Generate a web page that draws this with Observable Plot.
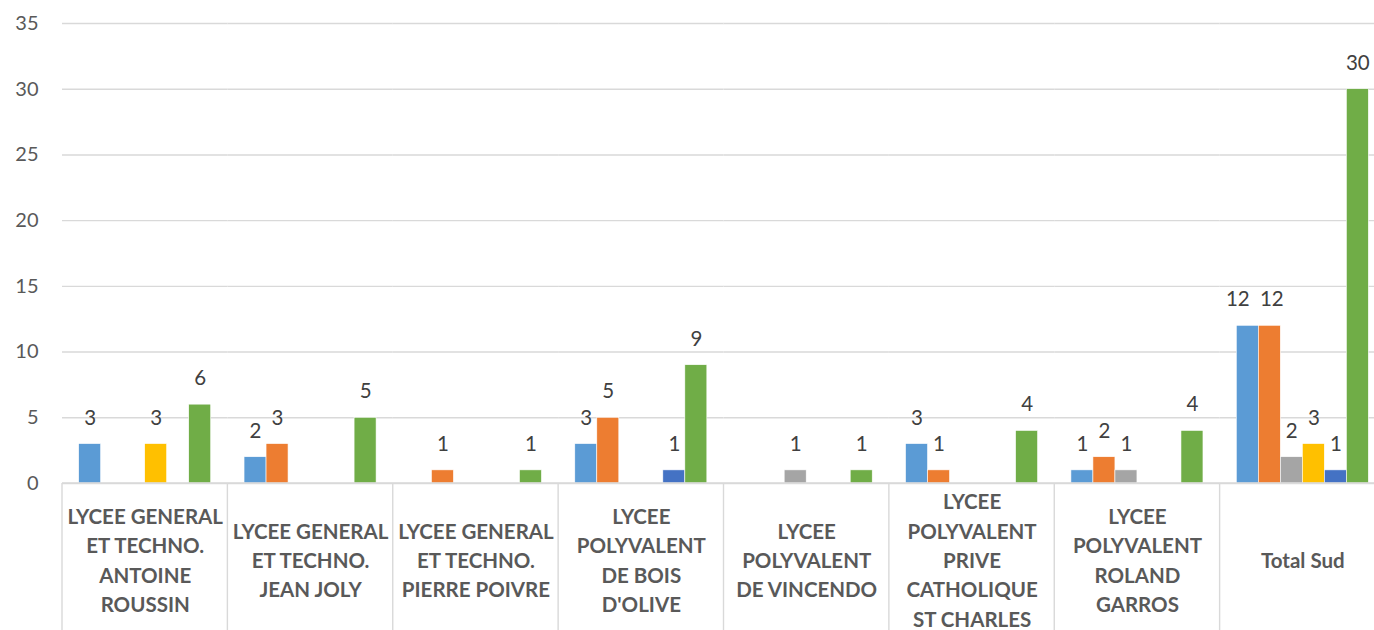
<!DOCTYPE html>
<html>
<head>
<meta charset="utf-8">
<script src="https://cdn.jsdelivr.net/npm/d3@7"></script>
<script src="https://cdn.jsdelivr.net/npm/@observablehq/plot@0.6"></script>
<style>
  html, body { margin: 0; padding: 0; background: #fff; overflow: hidden; }
  #chart { width: 1374px; height: 630px; overflow: hidden; }
  #chart svg { max-width: none !important; }
</style>
</head>
<body>
<div id="chart"></div>
<script>
const categories = [
  "LYCEE GENERAL\nET TECHNO.\nANTOINE\nROUSSIN",
  "LYCEE GENERAL\nET TECHNO.\nJEAN JOLY",
  "LYCEE GENERAL\nET TECHNO.\nPIERRE POIVRE",
  "LYCEE\nPOLYVALENT\nDE BOIS\nD'OLIVE",
  "LYCEE\nPOLYVALENT\nDE VINCENDO",
  "LYCEE\nPOLYVALENT\nPRIVE\nCATHOLIQUE\nST CHARLES",
  "LYCEE\nPOLYVALENT\nROLAND\nGARROS",
  "Total Sud"
];
const seriesNames = ["Série 1", "Série 2", "Série 3", "Série 4", "Série 5", "Série 6"];
const seriesColors = ["#5B9BD5", "#ED7D31", "#A5A5A5", "#FFC000", "#4472C4", "#70AD47"];
const serie1 = [3, 2, null, 3, null, 3, 1, 12];
const serie2 = [null, 3, 1, 5, null, 1, 2, 12];
const serie3 = [null, null, null, null, 1, null, 1, 2];
const serie4 = [3, null, null, null, null, null, null, 3];
const serie5 = [null, null, null, 1, null, null, null, 1];
const serie6 = [6, 5, 1, 9, 1, 4, 4, 30];
const yTicks = [0, 5, 10, 15, 20, 25, 30, 35];

const allSeries = [serie1, serie2, serie3, serie4, serie5, serie6];
const data = [];
categories.forEach((c, i) => {
  allSeries.forEach((s, j) => {
    if (s[i] != null) data.push({cat: c, series: seriesNames[j], value: s[i]});
  });
});

// labels of the two adjacent "12" bars are nudged apart, as in the original
const totalCat = categories[categories.length - 1];
const isLeft12 = d => d.cat === totalCat && d.series === seriesNames[0];
const isRight12 = d => d.cat === totalCat && d.series === seriesNames[1];
const labelStyle = {fx: "cat", x: "series", y: "value", text: "value", dy: -26, fontSize: 20.5, fill: "#404040"};

const chart = Plot.plot({
  width: 1385,
  height: 630,
  marginLeft: 62,
  marginRight: 0,
  marginTop: 23,
  marginBottom: 147,
  style: {fontFamily: "Lato, 'Open Sans', sans-serif", fontSize: "20px", color: "#595959", background: "#fff", maxWidth: "none"},
  fx: {domain: categories, padding: 0, axis: null, round: false},
  x: {domain: seriesNames, paddingInner: 0, paddingOuter: 0.757, axis: null, round: false},
  y: {domain: [0, 35], axis: null},
  color: {domain: seriesNames, range: seriesColors},
  marks: [
    Plot.gridY(yTicks, {stroke: "#d9d9d9", strokeOpacity: 1, strokeWidth: 1.4}),
    Plot.axisY(yTicks, {tickSize: 0, tickPadding: 24, fontSize: 20, fill: "#595959", label: null}),
    Plot.barY(data, {fx: "cat", x: "series", y: "value", fill: "series", stroke: "#ffffff", strokeWidth: 0.6}),
    Plot.text(data.filter(d => !isLeft12(d) && !isRight12(d)), labelStyle),
    Plot.text(data.filter(isLeft12), {...labelStyle, dx: -10}),
    Plot.text(data.filter(isRight12), {...labelStyle, dx: 2}),
    Plot.text(categories, {fx: d => d, text: d => d, frameAnchor: "bottom", dy: 75, lineAnchor: "middle", lineHeight: 1.43, fontWeight: "bold", fontSize: 20.5, fill: "#595959"})
  ]
});

document.getElementById("chart").appendChild(chart);

// group separators below the baseline, positioned from the fx and y scales
const fx = chart.scale("fx");
const ys = chart.scale("y");
const y0 = ys.apply(0);
const edges = categories.map(c => fx.apply(c));
edges.push(fx.apply(categories[categories.length - 1]) + fx.bandwidth);
const svg = d3.select(chart);
svg.append("g")
  .selectAll("line")
  .data(edges)
  .join("line")
  .attr("x1", d => d).attr("x2", d => d)
  .attr("y1", y0).attr("y2", 630)
  .attr("stroke", "#d9d9d9").attr("stroke-width", 1.4);
svg.append("line")
  .attr("x1", edges[0]).attr("x2", 1385)
  .attr("y1", y0).attr("y2", y0)
  .attr("stroke", "#d9d9d9").attr("stroke-width", 1.4);
</script>
</body>
</html>
